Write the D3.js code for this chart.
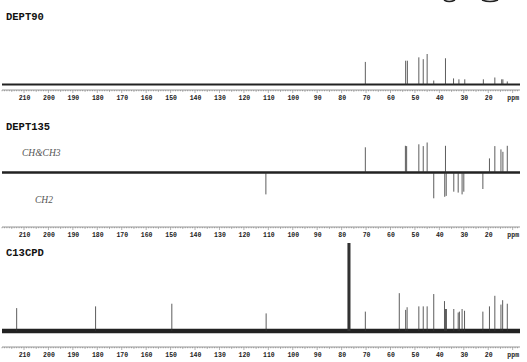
<!DOCTYPE html>
<html lang="en">
<head>
<meta charset="utf-8">
<title>DEPT / C13CPD spectra</title>
<script src="https://d3js.org/d3.v7.min.js"></script>
<style>
  body { margin: 0; background: #fff; }
  .title { font-family: "Liberation Mono", "DejaVu Sans Mono", monospace; font-weight: bold; font-size: 10.5px; fill: #111; }
  .tick text { font-family: "Liberation Mono", "DejaVu Sans Mono", monospace; font-weight: bold; font-size: 6.5px; fill: #222; }
  .note { font-family: "Liberation Serif", serif; font-style: italic; font-size: 9.5px; fill: #555; }
</style>
</head>
<body>
<script>
// tick labels along the ppm axis (10 is replaced by "ppm")
var tickPpm = [210, 200, 190, 180, 170, 160, 150, 140, 130, 120, 110, 100, 90, 80, 70, 60, 50, 40, 30, 20, 10];

// DEPT90 peaks: ppm and relative intensity (tallest = 100)
var dept90Ppm = [70.3, 53.8, 53.1, 48.4, 46.6, 45.0, 42.3, 37.5, 34.2, 32.0, 29.6, 22.0, 17.3, 14.5, 14.0, 12.2];
var dept90Int = [74, 78, 78, 89, 83, 100, 13, 86, 20, 17, 17, 17, 23, 17, 17, 10];

// DEPT135 peaks: positive = CH & CH3, negative = CH2
var dept135Ppm = [70.3, 53.9, 53.4, 48.4, 46.6, 45.0, 37.5, 19.5, 17.3, 14.8, 14.0, 12.2,
                  111.0, 42.3, 37.8, 37.2, 34.1, 32.3, 30.7, 30.0, 22.2];
var dept135Int = [84, 89, 88, 94, 88, 100, 89, 47, 88, 77, 69, 89,
                  -73, -86, -81, -78, -64, -67, -73, -64, -55];

// C13CPD (broadband decoupled) peaks, CDCl3 triplet near 77
var cpdPpm = [213.0, 180.7, 149.5, 110.9, 77.3, 77.0, 76.7, 70.3, 56.4, 53.8, 53.2, 48.4, 46.6, 45.0,
              42.3, 37.9, 37.5, 37.1, 34.1, 32.3, 31.8, 30.7, 29.7, 22.2, 19.5, 17.3, 14.8, 14.1, 12.2];
var cpdInt = [26, 28, 31, 20, 100, 100, 100, 22, 43, 24, 27, 28, 28, 28,
              42, 34, 25, 25, 25, 21, 22, 25, 23, 22, 28, 40, 30, 35, 31];

var w = 527, h = 362;
var svg = d3.select("body").append("svg").attr("width", w).attr("height", h);

var x = d3.scaleLinear().domain([219, 7]).range([2, 520]);

// one panel: title, baseline band, peaks, axis
function panel(opt) {
  var y = d3.scaleLinear().domain(opt.domain).range(opt.range);
  var g = svg.append("g");

  g.append("text").attr("class", "title").attr("x", 6).attr("y", opt.titleY).text(opt.title);

  // noisy baseline band
  g.append("line")
    .attr("x1", x(x.domain()[0])).attr("x2", x(x.domain()[1]))
    .attr("y1", y(0)).attr("y2", y(0))
    .attr("stroke", "#222").attr("stroke-width", opt.band);

  var peaks = opt.ppm.map(function(p, i) { return {ppm: p, v: opt.int[i]}; });
  g.selectAll("line.peak").data(peaks).enter().append("line")
    .attr("class", "peak")
    .attr("x1", function(d) { return x(d.ppm); })
    .attr("x2", function(d) { return x(d.ppm); })
    .attr("y1", y(0))
    .attr("y2", function(d) { return y(d.v); })
    .attr("stroke", "#333")
    .attr("stroke-width", function(d) { return d.v >= 100 && opt.title == "C13CPD" ? 1.6 : 0.8; });

  // axis: minor ticks every ppm, labels every 10
  var ax = svg.append("g").attr("transform", "translate(0," + opt.axisY + ")");
  ax.append("line").attr("x1", 2).attr("x2", 520).attr("stroke", "#555").attr("stroke-width", 0.6);
  ax.selectAll("line.minor").data(d3.range(8, 220, 1)).enter().append("line")
    .attr("class", "minor")
    .attr("x1", function(d) { return x(d); }).attr("x2", function(d) { return x(d); })
    .attr("y1", 0).attr("y2", function(d) { return d % 10 == 0 ? 3 : (d % 5 == 0 ? 2 : 1.3); })
    .attr("stroke", "#666").attr("stroke-width", 0.5);
  var a = ax.append("g").call(d3.axisBottom(x).tickValues(tickPpm).tickSize(0).tickPadding(9)
      .tickFormat(function(d) { return d == 10 ? "ppm" : d; }));
  a.select(".domain").remove();
  a.selectAll(".tick text").attr("dy", "0.1em");
  return g;
}

panel({title: "DEPT90", titleY: 20, ppm: dept90Ppm, int: dept90Int,
       domain: [0, 100], range: [84.5, 54], band: 2.2, axisY: 90});

var p2 = panel({title: "DEPT135", titleY: 129.5, ppm: dept135Ppm, int: dept135Int,
       domain: [-100, 100], range: [202.5, 142.5], band: 2.4, axisY: 227});
p2.append("text").attr("class", "note").attr("x", 22).attr("y", 156).text("CH&CH3");
p2.append("text").attr("class", "note").attr("x", 35).attr("y", 203).text("CH2");

panel({title: "C13CPD", titleY: 255.5, ppm: cpdPpm, int: cpdInt,
       domain: [0, 100], range: [331, 243], band: 4.5, axisY: 347});

// cropped marks at the very top edge of the scan
svg.append("path").attr("d", "M444,0 Q449,3 455,0 M482,0 Q490,3 498,0")
  .attr("fill", "none").attr("stroke", "#222").attr("stroke-width", 1.5);
</script>
</body>
</html>
